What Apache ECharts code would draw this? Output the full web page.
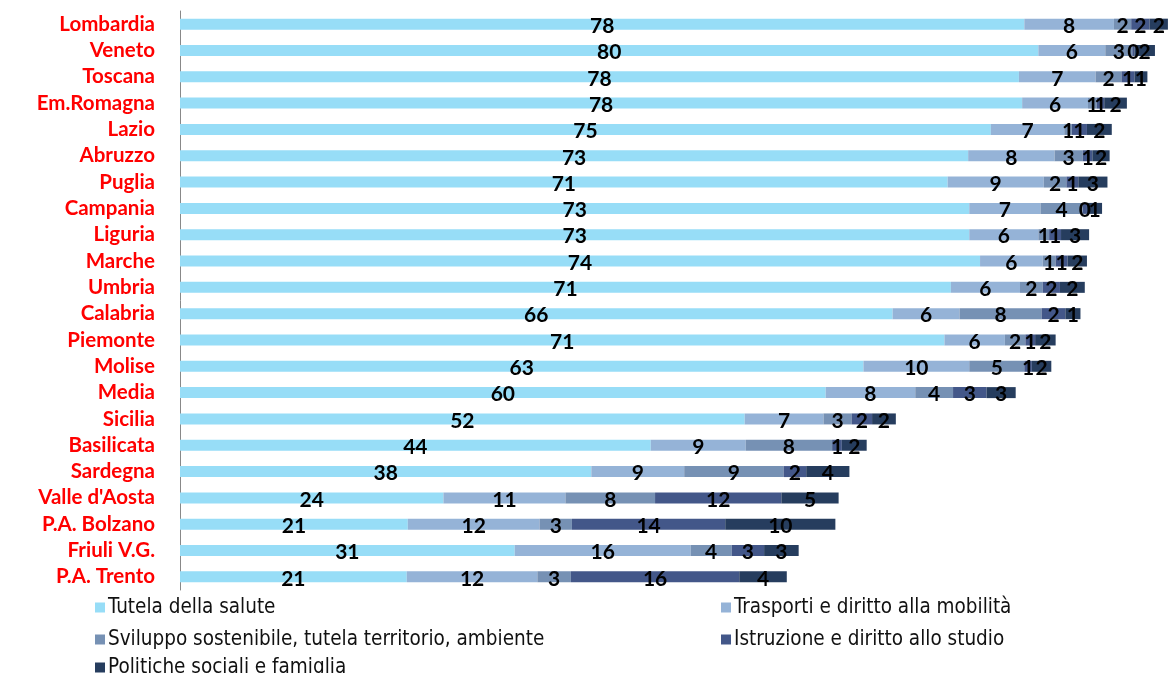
<!DOCTYPE html>
<html>
<head>
<meta charset="utf-8">
<script src="https://cdn.jsdelivr.net/npm/echarts@6/dist/echarts.min.js"></script>
<style>html,body{margin:0;padding:0;background:#fff}#c{width:1169px;height:673px}</style>
</head>
<body>
<div id="c"></div>
<script>
const categories = ["Lombardia","Veneto","Toscana","Em.Romagna","Lazio","Abruzzo","Puglia","Campania","Liguria","Marche","Umbria","Calabria","Piemonte","Molise","Media","Sicilia","Basilicata","Sardegna","Valle d'Aosta","P.A. Bolzano","Friuli V.G.","P.A. Trento"];
const seriesNames = ["Tutela della salute","Trasporti e diritto alla mobilità","Sviluppo sostenibile, tutela territorio, ambiente","Istruzione e diritto allo studio","Politiche sociali e famiglia"];
const salute     = [78.2,79.5,77.7,78.0,75.1,73.0,71.1,73.1,73.1,74.1,71.4,66.0,70.8,63.3,59.8,52.3,43.6,38.1,24.4,21.1,31.0,21.0];
const trasporti  = [8.3,6.2,7.1,6.1,6.8,8.0,8.9,6.6,6.4,5.8,6.4,6.2,5.6,9.8,8.3,7.3,8.8,8.6,11.3,12.2,16.3,12.1];
const sviluppo   = [1.6,2.5,2.4,0.8,0.7,2.6,2.1,3.9,1.0,1.2,2.1,7.6,1.9,5.1,3.5,2.6,8.0,9.2,8.3,3.0,3.8,3.1];
const istruzione = [1.7,0.2,1.2,0.7,1.4,0.9,1.1,0.4,1.1,1.1,1.6,2.2,0.9,0.7,3.1,1.9,0.9,2.1,11.7,14.2,3.0,15.6];
const politiche  = [1.7,1.9,1.2,2.1,2.3,1.6,2.7,1.4,2.6,1.8,2.3,1.4,1.9,1.8,2.7,2.2,2.3,4.0,5.3,10.2,3.2,4.4];
const colors = ["#97DDF7","#95B3D7","#7691B4","#435789","#263D5E"];
const values = [salute, trasporti, sviluppo, istruzione, politiche];

const chart = echarts.init(document.getElementById('c'));
const series = values.map((v, i) => ({
  name: seriesNames[i],
  type: 'bar',
  stack: 'tot',
  data: v,
  barWidth: 11,
  itemStyle: { color: colors[i] },
  label: {
    show: true,
    position: 'inside',
    offset: [0, 2],
    color: '#000',
    fontFamily: 'Lato, "Open Sans", sans-serif',
    fontWeight: 'bold',
    fontSize: 21,
    formatter: p => Math.round(p.value)
  },
  emphasis: { disabled: true }
}));
const legendPos = [[90, 592], [716, 592], [90, 624], [716, 624], [90, 652]];
const legends = seriesNames.map((n, i) => ({
  data: [n],
  left: legendPos[i][0],
  top: legendPos[i][1],
  itemWidth: 10,
  itemHeight: 10,
  itemGap: 0,
  icon: 'rect',
  textStyle: { fontFamily: '"Liberation Sans Narrow", "DejaVu Sans Condensed", sans-serif', fontSize: 20.5, color: '#111', padding: [0,0,0,-2] },
  selectedMode: false
}));
chart.setOption({
  animation: false,
  grid: { left: 180, top: 11, width: 989, height: 579, outerBoundsMode: 'none' },
  xAxis: { type: 'value', min: 0, max: 91.6, show: false },
  yAxis: {
    type: 'category',
    data: categories,
    inverse: true,
    axisLine: { show: true, lineStyle: { color: '#888', width: 1 } },
    axisTick: { show: false },
    axisLabel: { interval: 0, color: '#FF0000', fontWeight: 'bold', fontSize: 20.5, fontFamily: 'Lato, "Open Sans", sans-serif', margin: 25 }
  },
  legend: legends,
  series: series
});
</script>
</body>
</html>
